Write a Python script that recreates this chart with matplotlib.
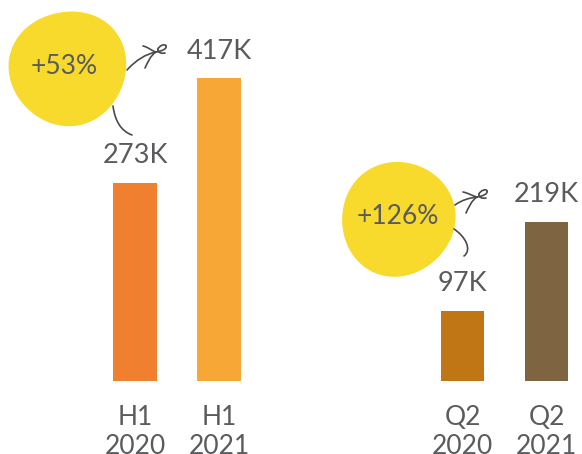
import matplotlib.pyplot as plt
import numpy as np
from matplotlib.path import Path
from matplotlib.patches import PathPatch, Polygon

plt.rcParams['font.family'] = ['Lato', 'DejaVu Sans']

# Dados
periodos = ["H1\n2020", "H1\n2021", "Q2\n2020", "Q2\n2021"]
valores = [273, 417, 97, 219]  # milhares
rotulos = ["273K", "417K", "97K", "219K"]
posicoes = [0, 1, 3.9, 4.9]
cores = ["#f07f2f", "#f7a736", "#c07614", "#7e6441"]
crescimento = ["+53%", "+126%"]

cinza = "#5a5b5d"
amarelo = "#f8da2c"

fig = plt.figure(figsize=(5.82, 4.54), dpi=100)
ax = fig.add_axes([0, 73 / 454, 1, 381 / 454])
ax.bar(posicoes, valores, width=0.52, color=cores)
ax.set_xlim(-135 / 84, (582 - 135) / 84)
ax.set_ylim(0, 381 / 0.726)
ax.set_yticks([])
ax.set_xticks(posicoes, labels=periodos)
ax.tick_params(axis="x", length=0, pad=17, labelsize=19, labelcolor=cinza)
for lbl in ax.get_xticklabels():
    lbl.set_linespacing(1.2)
for s in ax.spines.values():
    s.set_visible(False)

# rótulos de valor acima das barras
for x, v, t in zip(posicoes, valores, rotulos):
    ax.annotate(t, (x, v), xytext=(0, 19.5), textcoords="offset points",
                ha="center", va="center", fontsize=19.5, color=cinza)

# camada de anotações em pixels
ov = fig.add_axes([0, 0, 1, 1], zorder=3)
ov.set_xlim(0, 582)
ov.set_ylim(454, 0)
ov.axis("off")


def mancha(cx, cy, r, a2, p2, a3, p3):
    th = np.linspace(0, 2 * np.pi, 300)
    rr = r * (1 + a2 * np.cos(2 * th + p2) + a3 * np.cos(3 * th + p3))
    pts = np.column_stack([cx + rr * np.cos(th), cy + rr * np.sin(th)])
    ov.add_patch(Polygon(pts, closed=True, color=amarelo, lw=0))


def curva(pts, lw=1.2):
    codes = [Path.MOVETO] + [Path.CURVE4] * (len(pts) - 1)
    ov.add_patch(PathPatch(Path(pts, codes), fill=False, ec="#4a4a4a", lw=lw,
                           capstyle="round"))


def seta(p0, c1, c2, tip, barb1, barb2):
    curva([p0, c1, c2, tip])
    # laço na ponta
    tx, ty = tip
    curva([(tx, ty), (tx + 6, ty - 1), (tx + 11, ty - 3), (tx + 10, ty - 6)])
    curva([(tx + 10, ty - 6), (tx + 9, ty - 9), (tx + 3, ty - 6), (tx + 2, ty - 3)])
    curva([(tx + 2, ty - 3), (tx + 1, ty), (tx + 5, ty + 2), (tx + 9, ty + 1)])
    curva([barb1, (barb1[0] + 5, barb1[1] + 1), (tx - 4, ty - 1), tip])
    curva([tip, (tx - 6, ty + 4), (barb2[0] + 3, barb2[1] - 6), barb2])


mancha(68, 68, 58, 0.015, 0.6, 0.02, 2.2)
ov.text(64, 66, crescimento[0], ha="center", va="center", fontsize=19, color=cinza)
seta((127, 70), (136, 60), (146, 54), (156, 52), (143, 46), (145, 68))
curva([(113, 106), (115, 121), (121, 131), (132, 135)])

mancha(398, 219, 57, 0.015, 2.0, 0.015, 0.4)
ov.text(398, 216, crescimento[1], ha="center", va="center", fontsize=19, color=cinza)
seta((455, 205), (462, 200), (469, 198), (477, 197), (463, 192), (466, 213))
curva([(454, 229), (466, 237), (472, 250), (464, 256)])

fig.savefig("out.png", dpi=100)
